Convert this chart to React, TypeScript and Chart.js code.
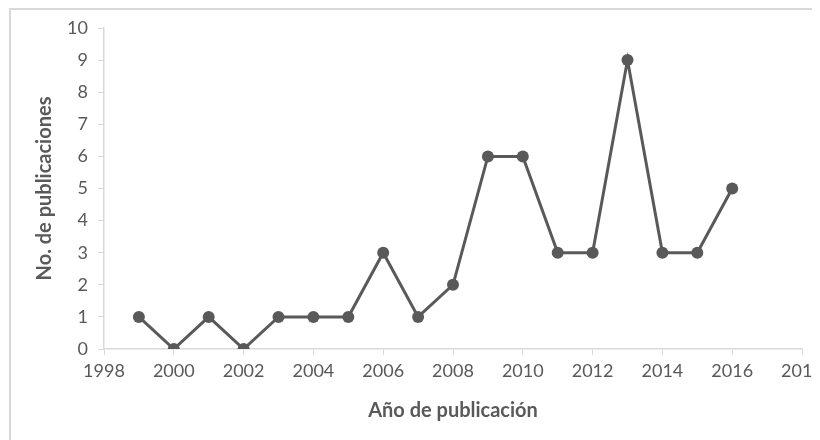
import React, { useEffect, useRef } from "react";
import { Chart, registerables } from "chart.js";

Chart.register(...registerables);

const years = [1999, 2000, 2001, 2002, 2003, 2004, 2005, 2006, 2007, 2008, 2009, 2010, 2011, 2012, 2013, 2014, 2015, 2016];
const publications = [1, 0, 1, 0, 1, 1, 1, 3, 1, 2, 6, 6, 3, 3, 9, 3, 3, 5];
const xTitle = "Año de publicación";
const yTitle = "No. de publicaciones";

const GRAY = "#595959";
const AXIS = "#d9d9d9";

const borderPlugin = {
  id: "frameBorder",
  beforeDraw(chart: any) {
    const { ctx, width, height } = chart;
    ctx.save();
    ctx.fillStyle = "#ffffff";
    ctx.fillRect(0, 0, width, height);
    ctx.strokeStyle = AXIS;
    ctx.lineWidth = 2;
    ctx.beginPath();
    ctx.moveTo(2, height);
    ctx.lineTo(2, 1);
    ctx.lineTo(width + 4, 1);
    ctx.stroke();
    ctx.restore();
  },
};

export default function App() {
  const ref = useRef<HTMLCanvasElement>(null);
  useEffect(() => {
    if (!ref.current) return;
    const chart = new Chart(ref.current, {
      type: "line",
      data: {
        datasets: [
          {
            data: years.map((y, i) => ({ x: y, y: publications[i] })),
            borderColor: GRAY,
            backgroundColor: GRAY,
            borderWidth: 3,
            pointRadius: 6,
            pointBackgroundColor: GRAY,
            pointBorderColor: GRAY,
            pointBorderWidth: 0,
            tension: 0,
          },
        ],
      },
      options: {
        animation: false,
        responsive: false,
        maintainAspectRatio: false,
        layout: { padding: { left: 2, top: 20, right: 18, bottom: 0 } },
        plugins: { legend: { display: false }, tooltip: { enabled: false } },
        scales: {
          x: {
            type: "linear",
            min: 1998,
            max: 2018,
            afterFit: (s: any) => { s.height = 91; s.paddingLeft = 0; s.paddingRight = 0; },
            ticks: { stepSize: 2, color: GRAY, font: { family: "Lato", size: 18 }, padding: 5, callback: (v: any) => String(v), maxRotation: 0, autoSkip: false },
            grid: { drawOnChartArea: false, drawTicks: true, tickLength: 6, color: AXIS, lineWidth: 1 },
            border: { color: AXIS, width: 1.5 },
            title: { display: true, text: xTitle, color: GRAY, font: { family: "Lato", size: 20, weight: "bold" }, padding: { top: 0, bottom: 17 } },
          },
          y: {
            min: 0,
            max: 10,
            afterFit: (s: any) => { s.width = 94; s.paddingTop = 0; s.paddingBottom = 0; },
            ticks: { stepSize: 1, color: GRAY, font: { family: "Lato", size: 18 }, padding: 10 },
            grid: { drawOnChartArea: false, drawTicks: true, tickLength: 6, color: AXIS, lineWidth: 1 },
            border: { color: AXIS, width: 1.5 },
            title: { display: true, text: yTitle, color: GRAY, font: { family: "Lato", size: 20, weight: "bold" }, padding: { top: 23, bottom: 0 } },
          },
        },
      },
      plugins: [borderPlugin],
    });
    return () => chart.destroy();
  }, []);
  return (
    <div style={{ width: 812, height: 432 }}>
      <canvas ref={ref} width={812} height={432} style={{ display: "block" }} />
    </div>
  );
}
